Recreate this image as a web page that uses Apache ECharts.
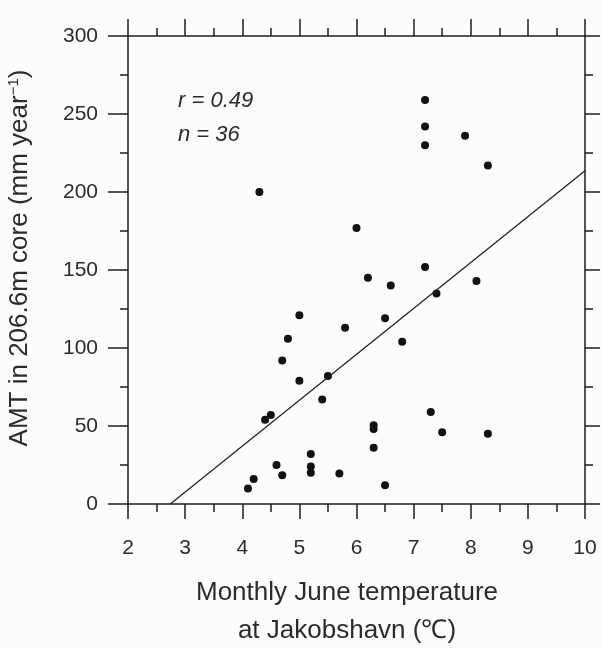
<!DOCTYPE html>
<html>
<head>
<meta charset="utf-8">
<script src="https://cdn.jsdelivr.net/npm/echarts@6/dist/echarts.min.js"></script>
<style>
html,body{margin:0;padding:0;background:#fcfcfa;}
#chart{width:603px;height:648px;}
</style>
</head>
<body>
<div id="chart"></div>
<script>
// June temperature at Jakobshavn (°C)
var tempX = [4.3, 7.2, 7.2, 7.2, 7.9, 8.3, 6.0, 5.0, 4.8, 4.7, 5.0, 5.8, 5.5, 5.4, 6.2, 6.6, 7.2, 7.4, 8.1, 6.5, 6.8, 4.4, 4.5, 4.1, 4.2, 4.6, 4.7, 5.2, 5.2, 5.2, 5.7, 7.3, 7.5, 8.3, 6.3, 6.3, 6.3, 6.5];
// AMT in 206.6m core (mm/yr)
var amtY  = [200, 259, 242, 230, 236, 217, 177, 121, 106, 92, 79, 113, 82, 67, 145, 140, 152, 135, 143, 119, 104, 54, 57, 10, 16, 25, 18.5, 32, 24, 20, 19.5, 59, 46, 45, 50.5, 48, 36, 12];
// regression line end points
var fitX = [2.74, 10];
var fitY = [0, 213.6];
var xTicks = [2, 3, 4, 5, 6, 7, 8, 9, 10];
var yTicks = [0, 50, 100, 150, 200, 250, 300];
var statR = 'r = 0.49';
var statN = 'n = 36';

var FONT = '"Liberation Sans", Arial, Helvetica, sans-serif';
var INK = '#1e1e1e';
var TXT = '#2b2b2b';

var chart = echarts.init(document.getElementById('chart'));
var pts = tempX.map(function (x, i) { return [x, amtY[i]]; });
var fit = fitX.map(function (x, i) { return [x, fitY[i]]; });

var axLine = { show: true, onZero: false, lineStyle: { color: INK, width: 1.5 } };

chart.setOption({
  backgroundColor: '#fcfcfa',
  animation: false,
  grid: { left: 128, right: 18, top: 36, bottom: 144 },
  xAxis: [{
    type: 'value', min: xTicks[0], max: xTicks[xTicks.length - 1], interval: 1,
    position: 'bottom',
    axisLine: axLine,
    axisTick: { show: true, inside: false, length: 15, lineStyle: { color: INK, width: 1.5 } },
    minorTick: { show: true, splitNumber: 2, length: 8, lineStyle: { color: INK, width: 1.5 } },
    axisLabel: { fontSize: 21, fontFamily: FONT, color: TXT, margin: 34 },
    splitLine: { show: false }
  }, {
    type: 'value', min: xTicks[0], max: xTicks[xTicks.length - 1], interval: 1,
    position: 'top',
    axisLine: axLine,
    axisTick: { show: true, inside: false, length: 17, lineStyle: { color: INK, width: 1.5 } },
    minorTick: { show: true, splitNumber: 2, length: 8, lineStyle: { color: INK, width: 1.5 } },
    axisLabel: { show: false },
    splitLine: { show: false }
  }],
  yAxis: [{
    type: 'value', min: yTicks[0], max: yTicks[yTicks.length - 1], interval: 50,
    position: 'left',
    axisLine: axLine,
    axisTick: { show: true, inside: false, length: 20, lineStyle: { color: INK, width: 1.5 } },
    minorTick: { show: true, splitNumber: 2, length: 8, lineStyle: { color: INK, width: 1.5 } },
    axisLabel: { fontSize: 21, fontFamily: FONT, color: TXT, margin: 30 },
    splitLine: { show: false }
  }, {
    type: 'value', min: yTicks[0], max: yTicks[yTicks.length - 1], interval: 50,
    position: 'right',
    axisLine: axLine,
    axisTick: { show: true, inside: false, length: 15, lineStyle: { color: INK, width: 1.5 } },
    minorTick: { show: true, splitNumber: 2, length: 8, lineStyle: { color: INK, width: 1.5 } },
    axisLabel: { show: false },
    splitLine: { show: false }
  }],
  series: [{
    type: 'line', data: fit, symbol: 'none', silent: true,
    lineStyle: { color: INK, width: 1.2 }
  }, {
    type: 'scatter', data: pts, symbol: 'circle', symbolSize: 8,
    itemStyle: { color: '#111', opacity: 1 }
  }],
  graphic: [{
    type: 'text', left: 178, top: 90,
    style: { text: statR, font: 'italic 22px ' + FONT, fill: TXT }
  }, {
    type: 'text', left: 178, top: 124,
    style: { text: statN, font: 'italic 22px ' + FONT, fill: TXT }
  }, {
    type: 'text', x: 20, y: 258, rotation: Math.PI / 2,
    style: {
      text: 'AMT in 206.6m core (mm year{sup|−1})',
      font: '26px ' + FONT, fill: TXT, align: 'center', verticalAlign: 'middle',
      rich: { sup: { fontSize: 15, fontFamily: FONT, fill: TXT, padding: [0, 0, 12, 0] } }
    }
  }, {
    type: 'text', x: 347, y: 593,
    style: { text: 'Monthly June temperature', font: '26px ' + FONT, fill: TXT, align: 'center', verticalAlign: 'middle' }
  }, {
    type: 'text', x: 347, y: 631,
    style: { text: 'at Jakobshavn (\u2103)', font: '26px ' + FONT, fill: TXT, align: 'center', verticalAlign: 'middle' }
  }]
});
</script>
</body>
</html>
